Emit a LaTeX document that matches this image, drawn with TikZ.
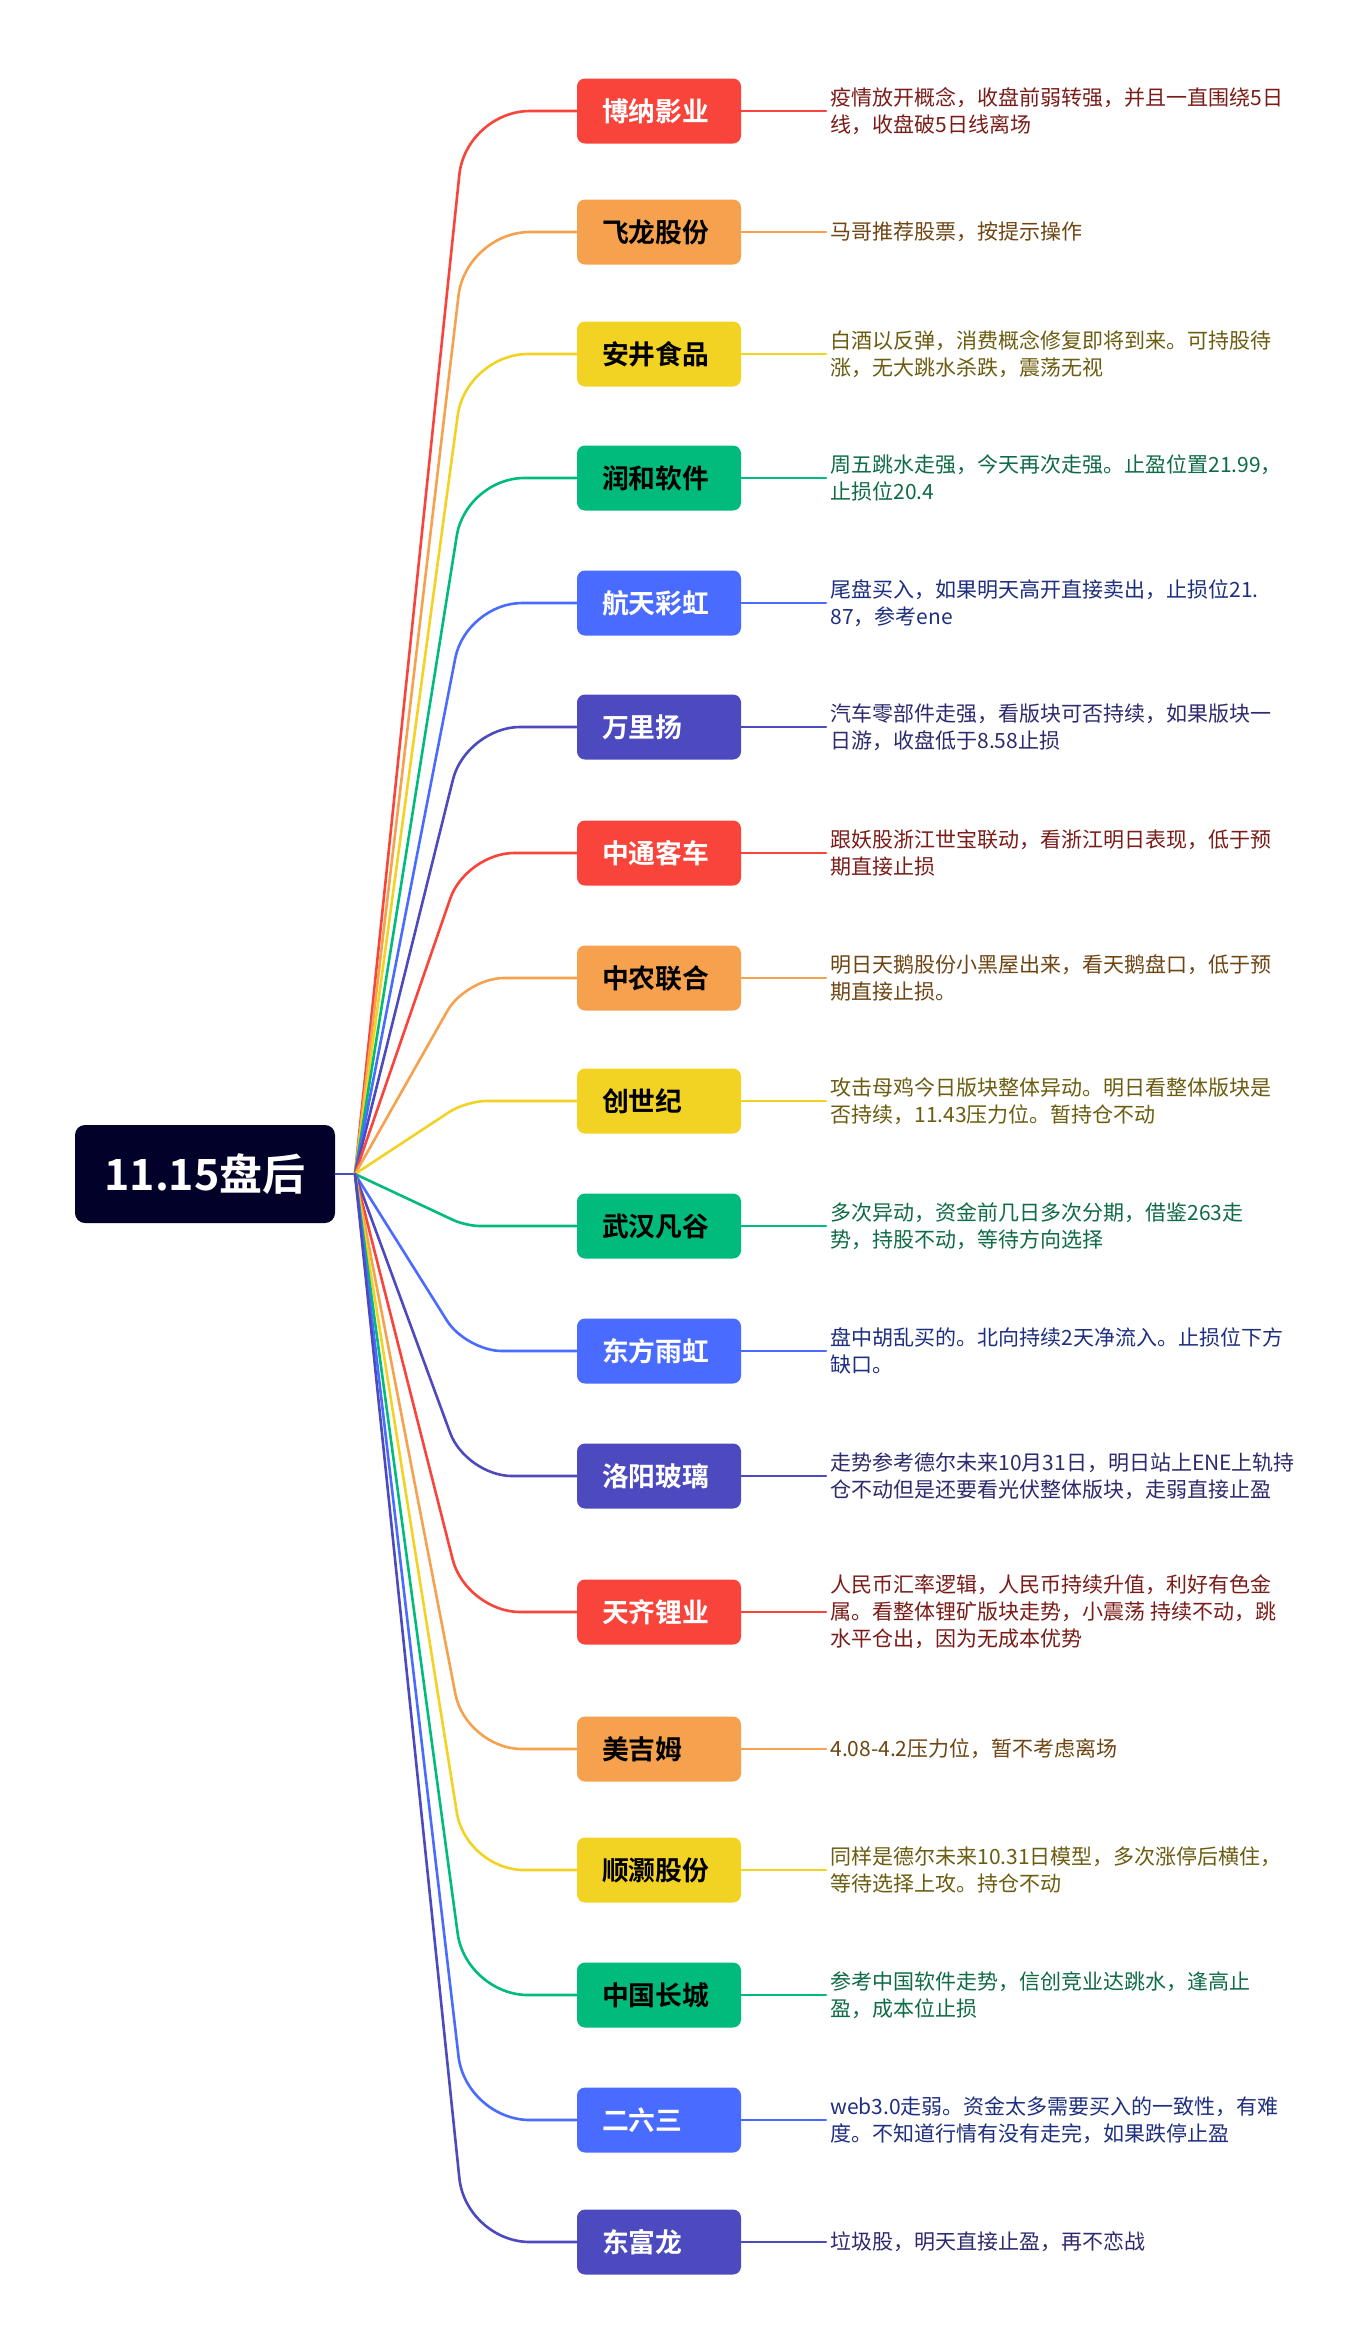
\documentclass[tikz,border=0pt]{standalone}
\usepackage{fontspec}
\setmainfont{Noto Sans CJK SC}[BoldFont={Noto Sans CJK SC Bold}]
\definecolor{cR}{HTML}{F9443B}
\definecolor{cO}{HTML}{F6A14D}
\definecolor{cY}{HTML}{F2D323}
\definecolor{cG}{HTML}{00BB7C}
\definecolor{cB}{HTML}{4A6BFF}
\definecolor{cI}{HTML}{4C4ABE}
\definecolor{dR}{HTML}{7A1C18}
\definecolor{dO}{HTML}{6E4513}
\definecolor{dY}{HTML}{6B5C10}
\definecolor{dG}{HTML}{0E6B45}
\definecolor{dB}{HTML}{1F2F80}
\definecolor{dI}{HTML}{2D2B6E}
\definecolor{rootfill}{HTML}{01012A}
\tikzset{
  rootbox/.style={fill=rootfill, text=white, rounded corners=5pt, minimum width=130pt,
    minimum height=49pt, inner sep=0pt, font=\bfseries\fontsize{21.5}{25}\selectfont},
  childbox/.style={rounded corners=4pt, minimum width=82pt, minimum height=32.5pt,
    inner xsep=12.5pt, inner ysep=0pt, text width=57pt, align=left,
    font=\bfseries\fontsize{13.4}{16}\selectfont},
  desc/.style={anchor=west, inner xsep=2pt, inner ysep=0pt, align=left,
    font=\fontsize{10.5}{13.5}\selectfont},
  conn/.style={line width=1.3pt, line cap=round}
}
\newcommand\mybranch[8]{%
  \node[childbox, fill=#3, text=#4] (#1) at (659,#2) {#6};
  \node[desc, text=#5] (#1d) at (826,#2) {#7};
  \draw[conn, draw=#3, rounded corners=#8] (hub) -- (#1.west -| cx) -- (#1.west);
  \draw[conn, draw=#3] (#1.east) -- (#1d.west);
}
\begin{document}
\begin{tikzpicture}[x=0.5pt,y=-0.5pt]
\useasboundingbox (0,0) rectangle (1365,2347);
\fill[white] (0,0) rectangle (1365,2347);
\coordinate (hub) at (355,1174);
\coordinate (cx) at (466,0);
\node[rootbox] (root) at (205,1174) {11.15盘后};
\draw[conn, draw=cI] (root.east) -- (hub);
\mybranch{b1}{111}{cR}{white}{dR}{博纳影业}{疫情放开概念，收盘前弱转强，并且一直围绕5日\\线，收盘破5日线离场}{32pt}
\mybranch{b2}{232}{cO}{black}{dO}{飞龙股份}{马哥推荐股票，按提示操作}{32pt}
\mybranch{b3}{354}{cY}{black}{dY}{安井食品}{白酒以反弹，消费概念修复即将到来。可持股待\\涨，无大跳水杀跌，震荡无视}{31pt}
\mybranch{b4}{478}{cG}{black}{dG}{润和软件}{周五跳水走强，今天再次走强。止盈位置21.99，\\止损位20.4}{29pt}
\mybranch{b5}{603}{cB}{white}{dB}{航天彩虹}{尾盘买入，如果明天高开直接卖出，止损位21.\\87，参考ene}{28pt}
\mybranch{b6}{727}{cI}{white}{dI}{万里扬}{汽车零部件走强，看版块可否持续，如果版块一\\日游，收盘低于8.58止损}{27pt}
\mybranch{b7}{853}{cR}{white}{dR}{中通客车}{跟妖股浙江世宝联动，看浙江明日表现，低于预\\期直接止损}{24pt}
\mybranch{b8}{978}{cO}{black}{dO}{中农联合}{明日天鹅股份小黑屋出来，看天鹅盘口，低于预\\期直接止损。}{19pt}
\mybranch{b9}{1101}{cY}{black}{dY}{创世纪}{攻击母鸡今日版块整体异动。明日看整体版块是\\否持续，11.43压力位。暂持仓不动}{10pt}
\mybranch{b10}{1226}{cG}{black}{dG}{武汉凡谷}{多次异动，资金前几日多次分期，借鉴263走\\势，持股不动，等待方向选择}{7pt}
\mybranch{b11}{1351}{cB}{white}{dB}{东方雨虹}{盘中胡乱买的。北向持续2天净流入。止损位下方\\缺口。}{18pt}
\mybranch{b12}{1476}{cI}{white}{dI}{洛阳玻璃}{走势参考德尔未来10月31日，明日站上ENE上轨持\\仓不动但是还要看光伏整体版块，走弱直接止盈}{23pt}
\mybranch{b13}{1612}{cR}{white}{dR}{天齐锂业}{人民币汇率逻辑，人民币持续升值，利好有色金\\属。看整体锂矿版块走势，小震荡 持续不动，跳\\水平仓出，因为无成本优势}{27pt}
\mybranch{b14}{1749}{cO}{black}{dO}{美吉姆}{4.08-4.2压力位，暂不考虑离场}{28pt}
\mybranch{b15}{1870}{cY}{black}{dY}{顺灏股份}{同样是德尔未来10.31日模型，多次涨停后横住，\\等待选择上攻。持仓不动}{29pt}
\mybranch{b16}{1995}{cG}{black}{dG}{中国长城}{参考中国软件走势，信创竞业达跳水，逢高止\\盈，成本位止损}{31pt}
\mybranch{b17}{2120}{cB}{white}{dB}{二六三}{web3.0走弱。资金太多需要买入的一致性，有难\\度。不知道行情有没有走完，如果跌停止盈}{32pt}
\mybranch{b18}{2242}{cI}{white}{dI}{东富龙}{垃圾股，明天直接止盈，再不恋战}{32pt}
\end{tikzpicture}
\end{document}
